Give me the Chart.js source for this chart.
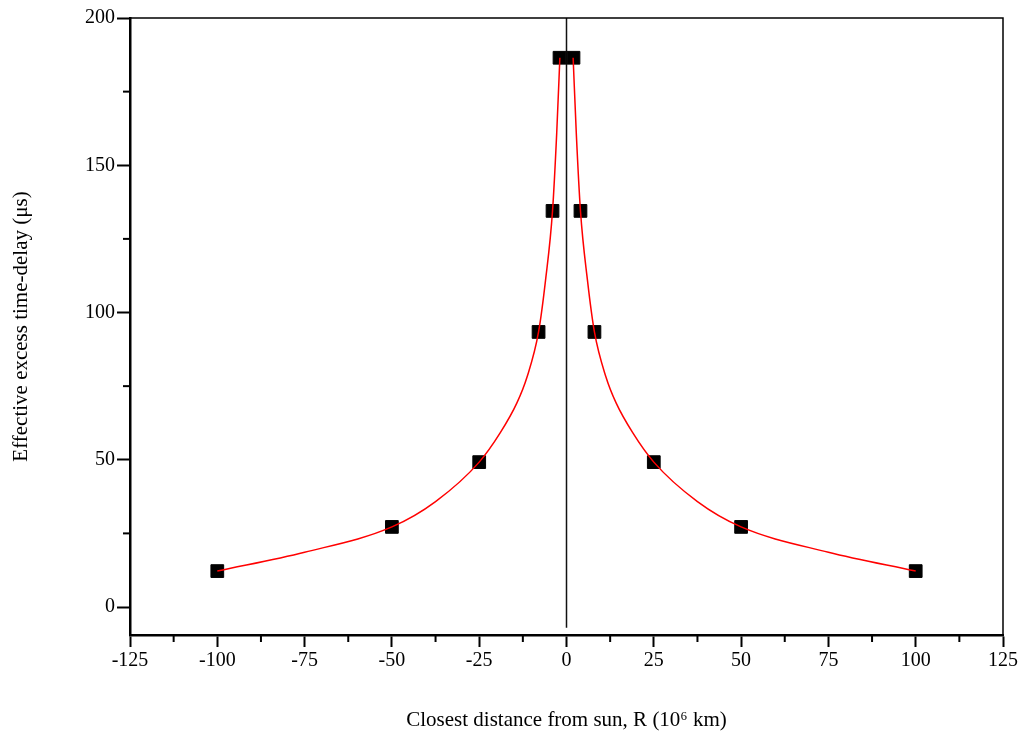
<!DOCTYPE html>
<html>
<head>
<meta charset="utf-8">
<script src="https://cdn.jsdelivr.net/npm/chart.js@4/dist/chart.umd.min.js"></script>
<style>
  body { margin: 0; background: #fff; }
  #wrap { width: 1027px; height: 734px; }
</style>
</head>
<body>
<div id="wrap"><canvas id="c"></canvas></div>
<script>
// measured points (squares): distance in 10^6 km, delay in microseconds
const markR = [-100, -50, -25, -8, -4, -2, 2, 4, 8, 25, 50, 100];
const markDelay = [12.2, 27.2, 49.2, 93.4, 134.5, 186.5, 186.5, 134.5, 93.4, 49.2, 27.2, 12.2];

// red fit curve
const curveLeftR = [-100, -75, -50, -37.5, -25, -19, -14.2, -11.3, -8, -6, -4, -2.8, -1.9];
const curveLeftDelay = [12.2, 18.6, 27.2, 35.8, 49.2, 59.1, 69.3, 78.1, 93.4, 111, 134.5, 161, 186.5];
const curveRightR = [1.9, 2.8, 4, 6, 8, 11.3, 14.2, 19, 25, 37.5, 50, 75, 100];
const curveRightDelay = [186.5, 161, 134.5, 111, 93.4, 78.1, 69.3, 59.1, 49.2, 35.8, 27.2, 18.6, 12.2];

const xTicks = [-125, -100, -75, -50, -25, 0, 25, 50, 75, 100, 125];
const yTicks = [0, 50, 100, 150, 200];
const xMinor = [-112.5, -87.5, -62.5, -37.5, -12.5, 12.5, 37.5, 62.5, 87.5, 112.5];
const yMinor = [25, 75, 125, 175];

const serif = '"Liberation Serif", "Times New Roman", serif';

function pts(xs, ys) {
    return xs.map((x, i) => ({ x: x, y: ys[i] }));
}

// minor ticks + top/right frame lines
const extras = {
    id: 'extras',
    afterDraw(chart) {
        const ctx = chart.ctx;
        const a = chart.chartArea;
        const xs = chart.scales.x, ys = chart.scales.y;
        ctx.save();
        ctx.strokeStyle = '#000';
        ctx.lineWidth = 2;
        xMinor.forEach(v => {
            const px = xs.getPixelForValue(v);
            ctx.beginPath();
            ctx.moveTo(px, a.bottom);
            ctx.lineTo(px, a.bottom + 7);
            ctx.stroke();
        });
        yMinor.forEach(v => {
            const py = ys.getPixelForValue(v);
            ctx.beginPath();
            ctx.moveTo(a.left, py);
            ctx.lineTo(a.left - 7, py);
            ctx.stroke();
        });
        ctx.lineWidth = 1.5;
        ctx.beginPath();
        ctx.moveTo(a.left, a.top);
        ctx.lineTo(a.right, a.top);
        ctx.lineTo(a.right, a.bottom);
        ctx.stroke();
        ctx.restore();
    }
};

new Chart(document.getElementById('c'), {
    type: 'scatter',
    data: {
        datasets: [
            {
                type: 'line',
                data: pts(curveLeftR, curveLeftDelay),
                borderColor: '#ff0000',
                borderWidth: 1.5,
                pointRadius: 0,
                cubicInterpolationMode: 'monotone',
                fill: false
            },
            {
                type: 'line',
                data: pts(curveRightR, curveRightDelay),
                borderColor: '#ff0000',
                borderWidth: 1.5,
                pointRadius: 0,
                cubicInterpolationMode: 'monotone',
                fill: false
            },
            {
                data: pts(markR, markDelay),
                pointStyle: 'rect',
                pointRadius: 9,
                backgroundColor: '#000',
                borderColor: '#000',
                borderWidth: 1
            },
            {
                type: 'line',
                data: [{ x: 0, y: -7 }, { x: 0, y: 200 }],
                borderColor: '#111',
                borderWidth: 1.5,
                pointRadius: 0
            }
        ]
    },
    options: {
        responsive: true,
        maintainAspectRatio: false,
        animation: false,
        layout: { padding: { top: 18, right: 24, left: 0, bottom: 0 } },
        plugins: { legend: { display: false }, tooltip: { enabled: false } },
        scales: {
            x: {
                type: 'linear',
                min: -125,
                max: 125,
                afterBuildTicks: s => { s.ticks = xTicks.map(v => ({ value: v })); },
                afterFit: s => { s.height = 99; },
                grid: { drawOnChartArea: false, drawTicks: true, tickLength: 12, tickWidth: 2, tickColor: '#000' },
                border: { color: '#000', width: 2.5 },
                ticks: { color: '#000', padding: 2, maxRotation: 0, font: { family: serif, size: 20 } },
                title: {
                    display: true,
                    text: 'Closest distance from sun, R (10\u2076 km)',
                    color: '#000',
                    font: { family: serif, size: 21 },
                    padding: { top: 0, bottom: 1 }
                }
            },
            y: {
                type: 'linear',
                min: -9.5,
                max: 200,
                afterBuildTicks: s => { s.ticks = yTicks.map(v => ({ value: v })); },
                afterFit: s => { s.width = 130; },
                grid: { drawOnChartArea: false, drawTicks: true, tickLength: 13, tickWidth: 2, tickColor: '#000' },
                border: { color: '#000', width: 2.5 },
                ticks: { color: '#000', padding: 2, font: { family: serif, size: 20 } },
                title: {
                    display: true,
                    text: 'Effective excess time-delay (\u03bcs)',
                    color: '#000',
                    font: { family: serif, size: 21 },
                    padding: { top: 9, bottom: 0 }
                }
            }
        }
    },
    plugins: [extras]
});
</script>
</body>
</html>
